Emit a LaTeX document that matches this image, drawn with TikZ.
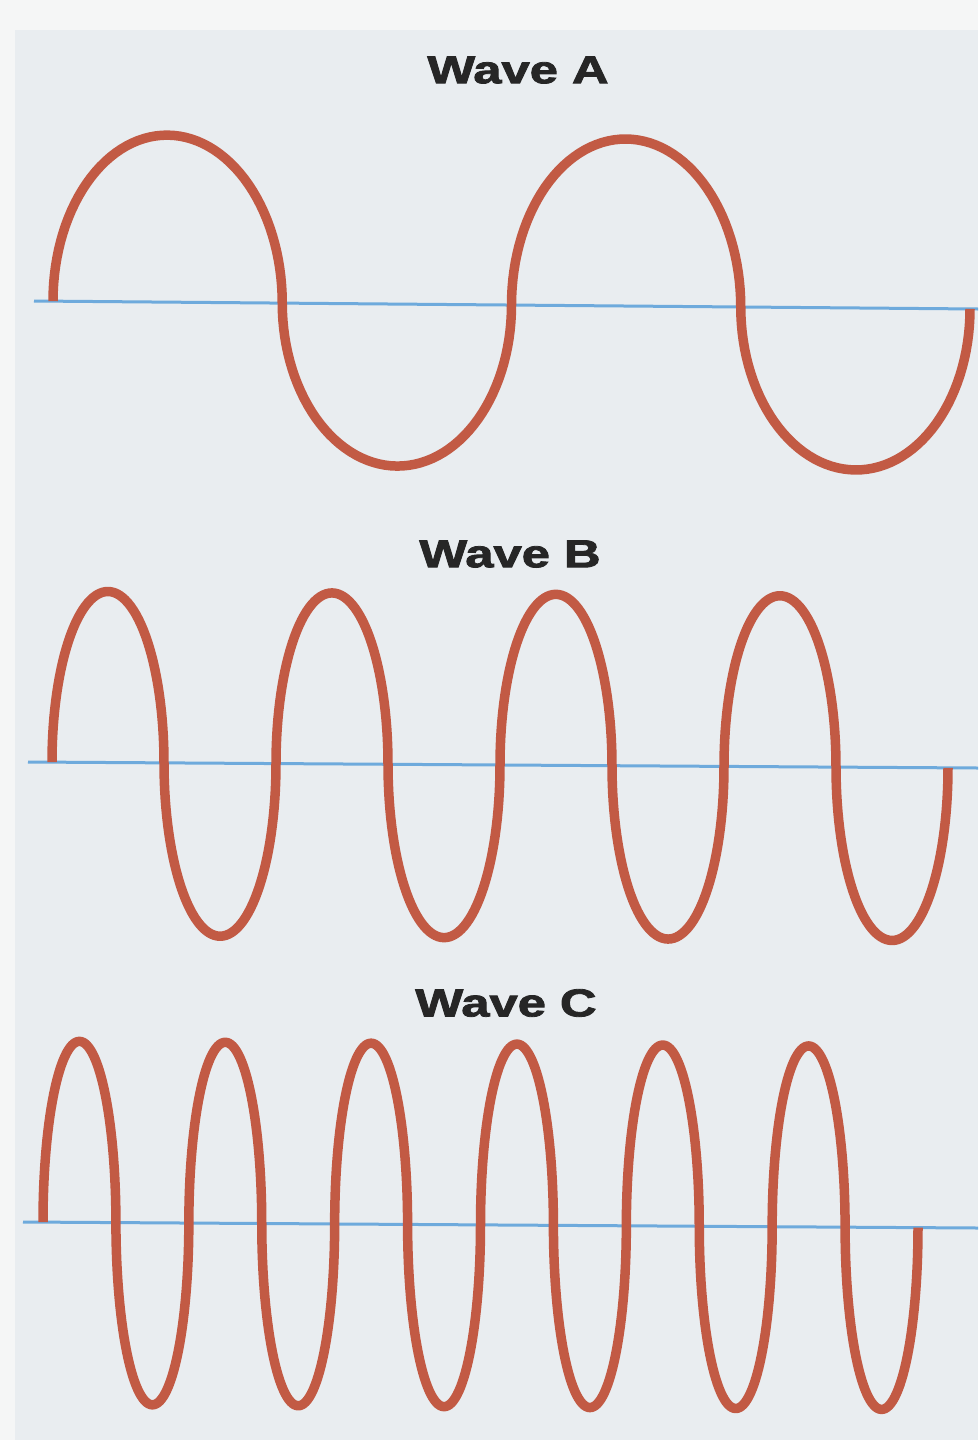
\documentclass[tikz,border=0pt]{standalone}
\usepackage{fontspec}
\newfontfamily\titlefont{Liberation Sans}[FakeBold=2]
\definecolor{bgmain}{RGB}{233,237,240}
\definecolor{bgedge}{RGB}{245,246,246}
\definecolor{wavecol}{RGB}{194,90,68}
\definecolor{axiscol}{RGB}{110,170,220}
\definecolor{titlecol}{RGB}{38,38,38}
% #1 x0, #2 half-period, #3 number of half-cycles minus one, #4 axis ref x, #5 axis ref y, #6 slope, #7 up amplitude, #8 down amplitude
\newcommand{\mywave}[8]{%
  \draw[wave] (#1,{#5+#6*(#1-#4)})
    \foreach \k in {0,...,#3}{
      -- plot[variable=\t,domain=0:180,samples=61]
        ({#1+\k*#2+#2/2*(1-cos(\t))},
         {#5+#6*(#1+\k*#2+#2/2*(1-cos(\t))-#4)-ifthenelse(mod(\k,2)==0,#7,-#8)*sin(\t)})
    };%
}
\begin{document}
\begin{tikzpicture}[x=1pt,y=-1pt,
  wave/.style={draw=wavecol,line width=9.5pt,line join=round},
  axisline/.style={draw=axiscol,line width=3pt},
  title/.style={inner sep=0pt,text=titlecol,font=\titlefont\bfseries\fontsize{39}{44}\selectfont}]
\fill[bgedge] (0,0) rectangle (978,1440);
\fill[bgmain] (15,30) rectangle (978,1440);
\useasboundingbox (0,0) rectangle (978,1440);

% Wave A
\node[title] (titleA) at (518,70) {\scalebox{1.3}[1]{Wave A}};
\coordinate (aL) at (34,301);
\coordinate (aR) at (978,309);
\draw[axisline] (aL) -- (aR);
\mywave{53}{229.25}{3}{34}{301}{0.00847}{167}{162}

% Wave B
\node[title] (titleB) at (510,554) {\scalebox{1.3}[1]{Wave B}};
\coordinate (bL) at (28,762);
\coordinate (bR) at (978,768);
\draw[axisline] (bL) -- (bR);
\mywave{52}{112}{7}{28}{762}{0.00632}{171}{173}

% Wave C
\node[title] (titleC) at (506,1003) {\scalebox{1.3}[1]{Wave C}};
\coordinate (cL) at (23,1222);
\coordinate (cR) at (978,1228);
\draw[axisline] (cL) -- (cR);
\mywave{43}{72.917}{11}{23}{1222}{0.00628}{181}{182}
\end{tikzpicture}
\end{document}
